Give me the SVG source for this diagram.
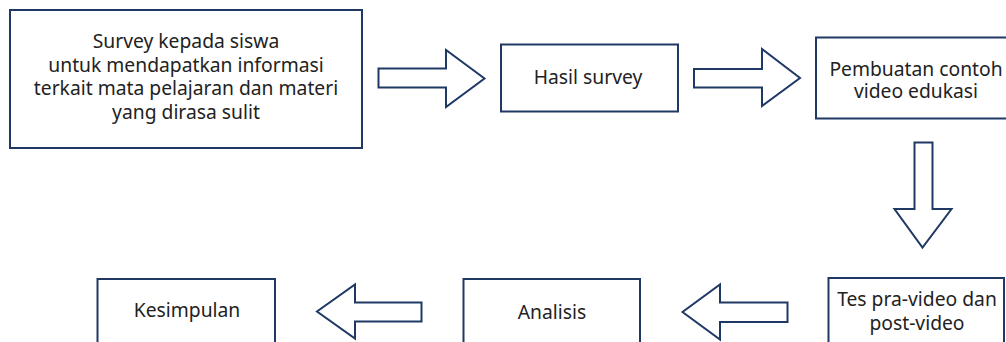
<svg xmlns="http://www.w3.org/2000/svg" width="1006" height="342" viewBox="0 0 1006 342">
<style>
.box{fill:#fff;stroke:#1f3864;stroke-width:2}
.arr{fill:#fff;stroke:#1f3864;stroke-width:2;stroke-linejoin:miter}
text{font-family:"Noto Sans","Open Sans","Liberation Sans",sans-serif;font-size:19.3px;fill:#222;text-anchor:middle}
</style>
<rect width="1006" height="342" fill="#fff"/>
<g id="n1">
<rect class="box" x="10" y="10" width="352" height="138"/>
<text x="186" y="48">Survey kepada siswa</text>
<text x="186" y="71.5">untuk mendapatkan informasi</text>
<text x="186" y="95">terkait mata pelajaran dan materi</text>
<text x="186" y="118.5">yang dirasa sulit</text>
</g>
<g id="n2">
<rect class="box" x="501" y="44.5" width="177" height="67"/>
<text x="588" y="84">Hasil survey</text>
</g>
<g id="n3">
<rect class="box" x="816" y="37.5" width="204" height="81"/>
<text x="916" y="75.5">Pembuatan contoh</text>
<text x="916" y="97.5">video edukasi</text>
</g>
<g id="n4">
<rect class="box" x="828.5" y="278" width="175.5" height="70"/>
<text x="917" y="306">Tes pra-video dan</text>
<text x="917" y="329.5">post-video</text>
</g>
<g id="n5">
<rect class="box" x="463.5" y="279" width="176.5" height="70"/>
<text x="552" y="319">Analisis</text>
</g>
<g id="n6">
<rect class="box" x="97.5" y="279" width="177.5" height="70"/>
<text x="187" y="317">Kesimpulan</text>
</g>
<g id="connectors">
<polygon class="arr" points="378.5,68.5 446,68.5 446,50 484.5,78.5 446,107 446,87.5 378.5,87.5"/>
<polygon class="arr" points="694,69 762,69 762,49 800,78 762,106 762,87.5 694,87.5"/>
<polygon class="arr" points="914.5,142.5 932.5,142.5 932.5,209 951.5,209 922.5,247.5 894.5,209 914.5,209"/>
<polygon class="arr" points="787.5,302.5 720,302.5 720,284.5 682.5,312 720,339.5 720,322 787.5,322"/>
<polygon class="arr" points="421.5,302.5 355,302.5 355,284.5 317,311.5 355,338.5 355,321.5 421.5,321.5"/>
</g>
</svg>
